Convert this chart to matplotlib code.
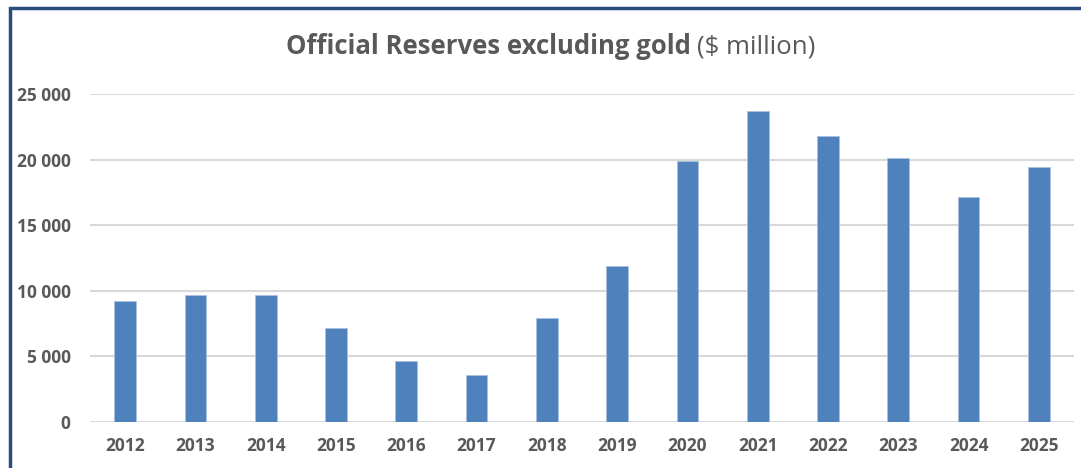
import matplotlib.pyplot as plt
from matplotlib.ticker import FuncFormatter
from matplotlib.patches import Rectangle

years = ["2012", "2013", "2014", "2015", "2016", "2017", "2018",
         "2019", "2020", "2021", "2022", "2023", "2024", "2025"]
reserves = [9250, 9700, 9680, 7200, 4670, 3580, 7900,
            11900, 19900, 23700, 21800, 20100, 17170, 19450]
y_ticks = [0, 5000, 10000, 15000, 20000, 25000]

plt.rcParams['font.family'] = ['Open Sans', 'DejaVu Sans']
grey = '#595959'

fig = plt.figure(figsize=(10.81, 4.68), dpi=100)
ax = fig.add_axes([0.0833, 0.0983, 0.9102, 0.7007])

x = range(len(years))
ax.bar(x, reserves, width=0.31, color='#4F81BD', edgecolor='#A9C1E0',
       linewidth=0.6, zorder=3)

ax.set_xlim(-0.5, len(years) - 0.5)
ax.set_ylim(0, 25000)
ax.set_yticks(y_ticks)
ax.yaxis.set_major_formatter(FuncFormatter(lambda v, p: f"{int(v):,}".replace(",", " ")))
ax.set_xticks(list(x))
ax.set_xticklabels(years)
ax.grid(axis='y', color='#D9D9D9', linewidth=1.5, zorder=0)
for s in ax.spines.values():
    s.set_visible(False)
ax.tick_params(axis='both', length=0, labelsize=12.5, labelcolor=grey)
ax.tick_params(axis='y', pad=14)
ax.tick_params(axis='x', pad=11)
for lab in ax.get_xticklabels() + ax.get_yticklabels():
    lab.set_fontweight('bold')

# title: bold part + normal part, centred as a whole
fs = 18.5
t1 = fig.text(0, 0.9, "Official Reserves excluding gold", fontsize=fs,
              fontweight='bold', color=grey, ha='left', va='center')
t2 = fig.text(0, 0.9, "($ million)", fontsize=fs,
              color=grey, ha='left', va='center')
fig.canvas.draw()
w1 = t1.get_window_extent().width
w2 = t2.get_window_extent().width
gap = 6
start = 551 - (w1 + gap + w2) / 2
t1.set_x(start / fig.bbox.width)
t2.set_x((start + w1 + gap) / fig.bbox.width)

# outer frame (top and left edges visible)
fig.patches.append(Rectangle((10 / 1081, -0.1), 1.2, 1 - 8 / 468 + 0.1,
                             transform=fig.transFigure, fill=False,
                             edgecolor='#2B4C7E', linewidth=2.5, clip_on=False))

fig.savefig('out.png', dpi=100)
